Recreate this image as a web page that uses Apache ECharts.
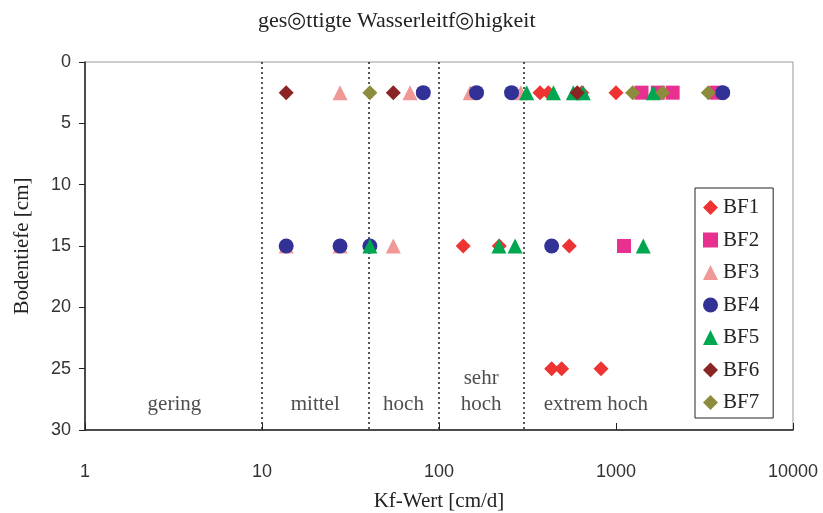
<!DOCTYPE html>
<html>
<head>
<meta charset="utf-8">
<script src="https://cdn.jsdelivr.net/npm/echarts@6/dist/echarts.min.js"></script>
<style>
  html, body { margin: 0; padding: 0; background: #fff; }
  #chart { width: 823px; height: 513px; }
</style>
</head>
<body>
<div id="chart"></div>
<script>
// Kf-Wert [cm/d] vs. Bodentiefe [cm]
const bf1 = [[372, 2.5], [415, 2.5], [640, 2.5], [1000, 2.5], [137, 15], [219, 15], [545, 15], [433, 25], [493, 25], [823, 25]];
const bf2 = [[1393, 2.5], [1722, 2.5], [2089, 2.5], [3700, 2.5], [1110, 15]];
const bf3 = [[27.6, 2.5], [68.6, 2.5], [150, 2.5], [290, 2.5], [13.7, 15], [27.6, 15], [55.2, 15]];
const bf4 = [[81.5, 2.5], [163, 2.5], [257, 2.5], [4009, 2.5], [13.7, 15], [27.6, 15], [40.7, 15], [433, 15]];
const bf5 = [[313, 2.5], [443, 2.5], [574, 2.5], [653, 2.5], [1625, 2.5], [40.7, 15], [218, 15], [269, 15], [1426, 15]];
const bf6 = [[13.7, 2.5], [55.2, 2.5], [604, 2.5]];
const bf7 = [[40.7, 2.5], [1242, 2.5], [1835, 2.5], [3323, 2.5]];

const seriesNames = ["BF1", "BF2", "BF3", "BF4", "BF5", "BF6", "BF7"];
const seriesData = [bf1, bf2, bf3, bf4, bf5, bf6, bf7];

// Klassengrenzen und Beschriftungen
const classBounds = [10, 40, 100, 300];
const classLabels = ["gering", "mittel", "hoch", "sehr\nhoch", "extrem hoch"];
const classLabelPos = [[3.2, 27.9], [20, 27.9], [63, 27.9], [173, 26.85], [770, 27.9]];

const depthTicks = [0, 5, 10, 15, 20, 25, 30];

const styles = [
    { symbol: "diamond", size: 15, color: "#ee3333" },
    { symbol: "rect", size: 14, color: "#e8308f" },
    { symbol: "triangle", size: 15, color: "#f09898" },
    { symbol: "circle", size: 15, color: "#323296" },
    { symbol: "triangle", size: 15, color: "#00a650" },
    { symbol: "diamond", size: 15, color: "#8b2525" },
    { symbol: "diamond", size: 15, color: "#8c8c3c" }
];

const serif = "Liberation Serif";
const sans = "Liberation Sans";

const series = seriesNames.map((name, i) => ({
    name: name,
    type: "scatter",
    data: seriesData[i],
    symbol: styles[i].symbol,
    symbolSize: styles[i].size,
    itemStyle: { color: styles[i].color, opacity: 1 },
    z: 3 + i
}));

series.unshift({
    name: "zones",
    type: "scatter",
    data: classLabelPos.map((p, i) => ({ value: p, label: { formatter: classLabels[i] } })),
    symbolSize: 0,
    silent: true,
    label: {
        show: true,
        position: "inside",
        fontFamily: serif,
        fontSize: 21,
        lineHeight: 26,
        color: "#222"
    },
    markLine: {
        silent: true,
        symbol: "none",
        label: { show: false },
        lineStyle: { type: [2, 3], color: "#222", width: 1.5 },
        data: classBounds.map(b => ({ xAxis: b }))
    },
    z: 2
});

const chart = echarts.init(document.getElementById("chart"));

chart.setOption({
    animation: false,
    title: {
        text: "ges◎ttigte Wasserleitf◎higkeit",
        left: 253,
        top: 5,
        textStyle: { fontFamily: serif, fontSize: 22, fontWeight: "normal", color: "#222" }
    },
    legend: {
        data: seriesNames,
        orient: "vertical",
        left: 695,
        top: 188,
        itemWidth: 15,
        itemHeight: 15,
        itemGap: 11.5,
        padding: [9, 14, 5, 8],
        borderColor: "#222",
        borderWidth: 1,
        backgroundColor: "#fff",
        textStyle: { fontFamily: serif, fontSize: 21, color: "#222" }
    },
    grid: {
        left: 85,
        right: 30,
        top: 62,
        bottom: 83,
        outerBoundsMode: "none",
        show: true,
        borderColor: "#999",
        borderWidth: 1
    },
    xAxis: {
        type: "log",
        logBase: 10,
        min: 1,
        max: 10000,
        position: "bottom",
        name: "Kf-Wert [cm/d]",
        nameLocation: "middle",
        nameGap: 61,
        nameTextStyle: { fontFamily: serif, fontSize: 21, color: "#222" },
        axisLine: { onZero: false, lineStyle: { color: "#222", width: 1.5 } },
        axisTick: { inside: true, length: 7, lineStyle: { color: "#222" } },
        axisLabel: { fontFamily: sans, fontSize: 18, color: "#333", margin: 33, formatter: v => String(v) },
        splitLine: { show: false },
        minorTick: { show: false }
    },
    yAxis: {
        type: "value",
        inverse: true,
        min: depthTicks[0],
        max: depthTicks[depthTicks.length - 1],
        interval: 5,
        name: "Bodentiefe [cm]",
        nameLocation: "middle",
        nameGap: 52,
        nameTextStyle: { fontFamily: serif, fontSize: 21, color: "#222" },
        axisLine: { onZero: false, lineStyle: { color: "#222", width: 1.5 } },
        axisTick: { inside: false, length: 6, lineStyle: { color: "#222" } },
        axisLabel: { fontFamily: sans, fontSize: 18, color: "#333", margin: 14 },
        splitLine: { show: false }
    },
    series: series
});
</script>
</body>
</html>
